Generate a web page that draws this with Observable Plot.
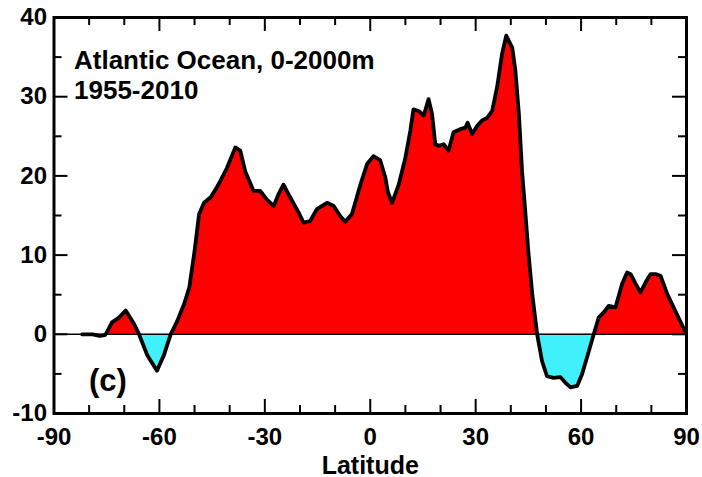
<!DOCTYPE html>
<html><head><meta charset="utf-8">
<script src="https://cdn.jsdelivr.net/npm/d3@7"></script>
<script src="https://cdn.jsdelivr.net/npm/@observablehq/plot@0.6"></script>
<style>body{margin:0;background:#fff;}</style>
</head><body><div id="chart"></div>
<script>
const latitude = [-82,-79,-77,-75.5,-75,-73.5,-71.5,-69.6,-67.2,-65.8,-63.5,-60.7,-58.7,-56.8,-55,-53,-51.5,-50,-48.7,-47.3,-45.4,-43.6,-42.5,-40.8,-38.4,-37,-35.6,-33.2,-31.3,-29.4,-27.5,-26.1,-24.7,-22.8,-20.4,-19,-17.1,-15.2,-12.3,-10.4,-8.5,-7.1,-5.2,-2.8,-0.9,0.9,2.8,4.3,5,6.2,8.1,10,11.4,12.3,13.8,15.2,16.6,17.6,18.5,19.4,20.9,22.3,23.7,25.6,27.1,27.7,29,30.4,31.8,33.2,34.7,36.1,37.5,38.7,40.4,41.3,42.3,43.2,44.2,45,46.1,47.5,48.9,50.3,52.2,54.1,55.5,57,58.9,60.3,61.7,63.6,65,66.5,67.9,69.8,71.7,73.1,74.1,75.5,76.9,78.4,79.8,81.2,82.6,84.5,87.4,89.8];
const heatTrend = [0,0,-0.2,-0.1,0.2,1.5,2.1,3.0,1.3,0,-2.6,-4.6,-2.6,0,1.6,3.8,5.9,10.5,15.2,16.6,17.3,18.6,19.5,21.0,23.6,23.2,20.6,18.1,18.1,17.0,16.2,17.7,18.9,17.3,15.4,14.1,14.3,15.8,16.6,16.2,14.9,14.2,15.2,18.9,21.5,22.5,22.0,19.8,18.0,16.6,18.9,22.3,25.7,28.4,28.2,27.6,29.7,27.8,24.0,23.8,24.0,23.2,25.5,25.9,26.1,26.7,25.3,26.3,27.0,27.3,28.2,31.2,35.4,37.7,36.2,33.3,27.8,20.6,15.0,10.4,5.1,0,-3.4,-5.3,-5.5,-5.4,-6.1,-6.7,-6.5,-5.0,-2.9,0,2.1,2.8,3.6,3.4,6.4,7.8,7.6,6.4,5.3,6.6,7.6,7.6,7.4,5.1,2.4,0.2];
const titleText = "Atlantic Ocean, 0-2000m\n1955-2010";
const panelLabel = "(c)";
const xLabel = "Latitude";
const xTicks = [-90,-60,-30,0,30,60,90];
const xMinorTicks = [-80,-70,-50,-40,-20,-10,10,20,40,50,70,80];
const yTicks = [-10,0,10,20,30,40];
const yMinorTicks = [-5,5,15,25,35];

const data = latitude.map((lat, i) => ({lat, v: heatTrend[i]}));

const W = 702, H = 477, mL = 53.5, mR = 16, mT = 17, mB = 64;
const fw = W - mL - mR, fh = H - mT - mB;
const major = 14, minor = 8;
const font = "'Liberation Sans', Arial, Helvetica, sans-serif";

const chart = Plot.plot({
  width: W, height: H,
  marginLeft: mL, marginRight: mR, marginTop: mT, marginBottom: mB,
  style: {fontFamily: font, fontWeight: "bold", background: "#fff", color: "#000"},
  x: {domain: [-90, 90]},
  y: {domain: [-10, 40]},
  marks: [
    Plot.areaY(data, {x: "lat", y1: 0, y2: d => Math.max(0, d.v), fill: "#ff0000"}),
    Plot.areaY(data, {x: "lat", y1: 0, y2: d => Math.min(0, d.v), fill: "#40f0fa"}),
    Plot.ruleY([0], {stroke: "#000", strokeWidth: 1.5}),
    Plot.line(data, {x: "lat", y: "v", stroke: "#000", strokeWidth: 3.8, strokeLinejoin: "round", strokeLinecap: "round"}),
    // inward ticks on all four sides
    Plot.ruleX(xTicks, {stroke: "#000", strokeWidth: 2, insetTop: fh - major}),
    Plot.ruleX(xTicks, {stroke: "#000", strokeWidth: 2, insetBottom: fh - major}),
    Plot.ruleX(xMinorTicks, {stroke: "#000", strokeWidth: 2, insetTop: fh - minor}),
    Plot.ruleX(xMinorTicks, {stroke: "#000", strokeWidth: 2, insetBottom: fh - minor}),
    Plot.ruleY(yTicks, {stroke: "#000", strokeWidth: 2, insetRight: fw - major}),
    Plot.ruleY(yTicks, {stroke: "#000", strokeWidth: 2, insetLeft: fw - major}),
    Plot.ruleY(yMinorTicks, {stroke: "#000", strokeWidth: 2, insetRight: fw - minor}),
    Plot.ruleY(yMinorTicks, {stroke: "#000", strokeWidth: 2, insetLeft: fw - minor}),
    Plot.frame({stroke: "#000", strokeWidth: 3}),
    Plot.axisX({ticks: xTicks, tickSize: 0, tickPadding: 14, fontSize: 24, tickFormat: d => String(d), label: null}),
    Plot.axisY({ticks: yTicks, tickSize: 0, tickPadding: 7, fontSize: 24, tickFormat: d => String(d), label: null}),
    Plot.text([xLabel], {text: d => d, frameAnchor: "bottom", lineAnchor: "bottom", dy: 60, fontSize: 25, fill: "#000"}),
    Plot.text([titleText], {text: d => d, frameAnchor: "top-left", textAnchor: "start", lineAnchor: "top", dx: 20, dy: 30, fontSize: 26, lineHeight: 1.16, fill: "#000"}),
    Plot.text([panelLabel], {text: d => d, frameAnchor: "bottom-left", textAnchor: "start", lineAnchor: "bottom", dx: 35, dy: -23, fontSize: 31, fill: "#000"})
  ]
});
document.getElementById("chart").appendChild(chart);
</script>
</body></html>
